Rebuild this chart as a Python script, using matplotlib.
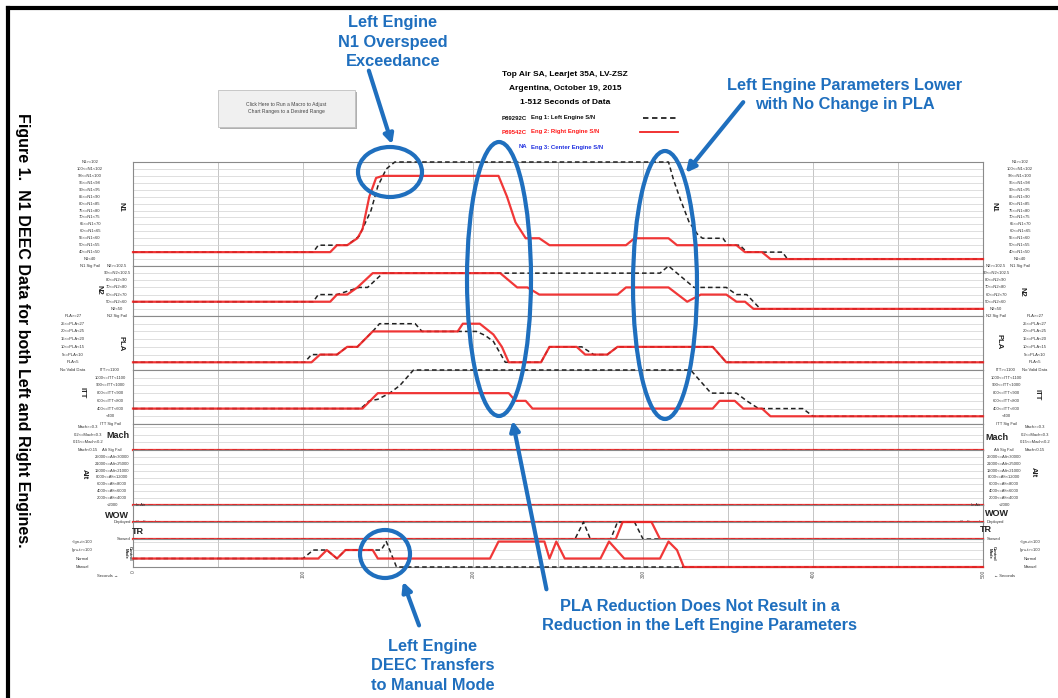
import matplotlib
matplotlib.use("Agg")
import matplotlib.pyplot as plt
import matplotlib.transforms as mtransforms
from matplotlib.patches import Ellipse, Rectangle, FancyArrowPatch
from matplotlib.lines import Line2D

plt.rcParams["font.family"] = ["Liberation Sans", "DejaVu Sans"]

W, H = 1058, 698

# -----------------------------
# 1. Data (time in seconds, value = band index of each parameter)
# -----------------------------
n1_eng1_t = [0, 106, 109, 118, 126, 133, 140, 144, 149, 154, 315, 318, 322, 327, 332, 335, 347, 350, 357, 361, 382, 385, 500]
n1_eng1_v = [1, 1, 2, 2, 2, 3.3, 7, 10.5, 13, 14, 14, 11.4, 8.6, 5.4, 3.6, 3, 3, 2, 2, 1, 1, 0, 0]
n1_eng2_t = [0, 116, 120, 126, 132, 135, 139, 143, 147, 215, 220, 225, 231, 239, 245, 290, 295, 315, 320, 355, 360, 370, 375, 500]
n1_eng2_v = [1, 1, 2, 2, 3, 4.3, 9, 11.7, 12, 12, 9, 5.3, 3, 3, 2, 2, 3, 3, 2, 2, 1, 1, 0, 0]

n2_eng1_t = [0, 106, 109, 120, 133, 138, 147, 310, 315, 330, 349, 355, 361, 369, 500]
n2_eng1_v = [1, 1, 2, 2, 3, 3, 5, 5, 6, 3, 3, 2, 2, 0, 0]
n2_eng2_t = [0, 116, 120, 126, 132, 141, 216, 226, 232, 239, 285, 290, 315, 326, 334, 349, 355, 360, 365, 500]
n2_eng2_v = [1, 1, 2, 2, 3, 5, 5, 3, 3, 2, 2, 3, 3, 1, 2, 2, 1, 1, 0, 0]

pla_eng1_t = [0, 101, 105, 112, 120, 126, 132, 141, 145, 166, 170, 202, 207, 212, 219, 240, 245, 264, 271, 279, 285, 341, 349, 500]
pla_eng1_v = [0, 0, 1, 1, 1, 2, 2, 4, 5, 5, 4, 4, 3.5, 2.7, 0, 0, 2, 2, 1, 1, 2, 2, 0, 0]
pla_eng2_t = [0, 105, 110, 120, 126, 132, 141, 191, 194, 204, 212, 217, 221, 240, 245, 261, 266, 279, 285, 341, 349, 500]
pla_eng2_v = [0, 0, 1, 1, 2, 2, 4, 4, 5, 5, 3.6, 2, 0, 0, 2, 2, 1, 1, 2, 2, 0, 0]

itt_eng1_t = [0, 134, 139, 144, 151, 157, 165, 328, 334, 340, 355, 361, 368, 394, 400, 500]
itt_eng1_v = [0, 0, 1, 1.2, 2, 3, 5, 5, 3.5, 2, 2, 1, 0, 0, -1, -1]
itt_eng2_t = [0, 135, 144, 221, 225, 231, 235, 341, 345, 354, 359, 370, 375, 500]
itt_eng2_v = [0, 0, 2, 2, 1, 1, 0, 0, 1, 1, 0, 0, -1, -1]

mach_t = [0, 500]
mach_v = [0, 0]
alt_t = [0, 500]
alt_v = [0, 0]
wow_t = [0, 500]
wow_v = [0, 0]

tr_eng1_t = [0, 260, 265, 269, 281, 285, 295, 300, 500]
tr_eng1_v = [0, 0, 1, 0, 0, 1, 1, 0, 0]
tr_eng2_t = [0, 284, 288, 305, 310, 500]
tr_eng2_v = [0, 0, 1, 1, 0, 0]

deec_eng1_t = [0, 100, 106, 114, 120, 125, 141, 146, 149, 155, 500]
deec_eng1_v = [1, 1, 2, 2, 1, 2, 2, 2, 3, 0, 0]
deec_eng2_t = [0, 109, 114, 120, 125, 141, 144, 210, 215, 242, 245, 249, 254, 275, 280, 289, 310, 315, 320, 324, 500]
deec_eng2_v = [1, 1, 2, 1, 2, 2, 1, 1, 3, 3, 1, 3, 1, 1, 3, 1, 1, 3, 2, 0, 0]

# band labels, lowest band first
n1_labels = ["N1 Sig Fail", "N1<40", "40<=N1<50", "50<=N1<55", "55<=N1<60", "60<=N1<65", "65<=N1<70",
             "70<=N1<75", "75<=N1<80", "80<=N1<85", "85<=N1<90", "90<=N1<95", "95<=N1<98",
             "98<=N1<100", "100<=N1<102", "N1>=102"]
n2_labels = ["N2 Sig Fail", "N2<50", "50<=N2<60", "60<=N2<70", "70<=N2<80", "80<=N2<90", "90<=N2<102.5", "N2>=102.5"]
pla_labels = ["No Valid Data", "PLA<5", "5<=PLA<10", "10<=PLA<15", "15<=PLA<20", "20<=PLA<25", "25<=PLA<27", "PLA>=27"]
itt_labels = ["ITT Sig Fail", "<400", "400<=ITT<600", "600<=ITT<800", "800<=ITT<900", "900<=ITT<1000", "1000<=ITT<1100", "ITT>=1100"]
mach_labels = ["Mach<0.15", "0.15<=Mach<0.2", "0.2<=Mach<0.3", "Mach>=0.3"]
alt_labels = ["<2000", "2000<=Alt<4000", "4000<=Alt<6000", "6000<=Alt<8000", "8000<=Alt<12000",
              "12000<=Alt<21000", "21000<=Alt<25000", "25000<=Alt<30000", "Alt Sig Fail"]
wow_labels = ["On Ground", "In Air"]
tr_labels = ["Stowed", "Deployed"]
deec_labels = ["Manual", "Normal", "Ign+t>=100", "<Ign+t<100"]

x_ticks = list(range(0, 501, 50))
x_labels = ["0", "", "100", "", "200", "", "300", "", "400", "", "500"]

# -----------------------------
# 2. Layout / style
# -----------------------------
RED = "#f02222"
BLUE = "#1f6fbe"


def fx(x):
    return x / W


def fy(y):
    return 1 - y / H


# name, top px, bottom px, ylim, labels, first band, eng1 (t, v), eng2 (t, v)
panels = [
    ("N1", 162, 266, (-1, 14), n1_labels, -1, (n1_eng1_t, n1_eng1_v), (n1_eng2_t, n1_eng2_v)),
    ("N2", 266, 316, (-1, 6), n2_labels, -1, (n2_eng1_t, n2_eng1_v), (n2_eng2_t, n2_eng2_v)),
    ("PLA", 316, 370, (-1, 6), pla_labels, -1, (pla_eng1_t, pla_eng1_v), (pla_eng2_t, pla_eng2_v)),
    ("ITT", 370, 424, (-2, 5), itt_labels, -2, (itt_eng1_t, itt_eng1_v), (itt_eng2_t, itt_eng2_v)),
    ("Mach", 424, 450, (0, 3.4), mach_labels, 0, (mach_t, mach_v), (mach_t, mach_v)),
    ("Alt", 450, 505, (0, 8), alt_labels, 0, (alt_t, alt_v), (alt_t, alt_v)),
    ("WOW", 505, 522, (0, 1), wow_labels, 0, (wow_t, wow_v), (wow_t, wow_v)),
    ("TR", 522, 539, (0, 1), tr_labels, 0, (tr_eng1_t, tr_eng1_v), (tr_eng2_t, tr_eng2_v)),
    ("DEEC", 539, 567, (0, 3.3), deec_labels, 0, (deec_eng1_t, deec_eng1_v), (deec_eng2_t, deec_eng2_v)),
]

# where the band labels go: left x, left ha, right x, right ha
label_pos = {
    "N1": (90, "center", 1020, "center"),
    "N2": (117, "center", 996, "center"),
    "PLA": (73, "center", 1035, "center"),
    "ITT": (110, "center", 1006, "center"),
    "Mach": (88, "center", 1035, "center"),
    "Alt": (112, "center", 1004, "center"),
    "WOW": (136, "left", 980, "right"),
    "TR": (131, "right", 987, "left"),
    "DEEC": (82, "center", 1030, "center"),
}
# panel names: left (x, y, rot), right (x, y, rot)
name_pos = {
    "N1": ((121, 207, 270), (994, 207, 270)),
    "N2": ((99, 290, 270), (1022, 292, 270)),
    "PLA": ((121, 344, 270), (999, 342, 270)),
    "ITT": ((82, 393, 270), (1037, 395, 270)),
    "Mach": ((118, 436, 0), (997, 437, 0)),
    "Alt": ((84, 474, 270), (1033, 472, 270)),
    "WOW": ((117, 516, 0), (997, 513, 0)),
    "TR": ((138, 531, 0), (986, 530, 0)),
    "DEEC": ((128, 553, 270), (992, 553, 270)),
}

fig = plt.figure(figsize=(W / 100, H / 100), dpi=100)
fig.patch.set_facecolor("white")

left_px, right_px = 133, 983
axes = []
for name, top, bot, ylim, labels, first, eng1, eng2 in panels:
    ax = fig.add_axes([fx(left_px), fy(bot), (right_px - left_px) / W, (bot - top) / H])
    ax.set_xlim(0, 500)
    ax.set_ylim(*ylim)
    levels = list(range(first, first + len(labels)))
    ax.set_yticks([lv for lv in levels if ylim[0] <= lv <= ylim[1]])
    ax.set_xticks(x_ticks)
    ax.tick_params(length=0, labelleft=False, labelbottom=False)
    ax.grid(axis="y", color="#d2d2d2", lw=0.5)
    ax.grid(axis="x", color="#bcbcbc", lw=0.6)
    for sp in ax.spines.values():
        sp.set_color("#8a8a8a")
        sp.set_linewidth(0.8)

    ax.plot(eng1[0], eng1[1], color="#222222", lw=1.1, ls=(0, (3, 2)), clip_on=False, zorder=3)
    ax.plot(eng2[0], eng2[1], color=RED, lw=1.6, clip_on=False, zorder=4, alpha=0.9)

    # band labels on both sides
    trans = mtransforms.blended_transform_factory(fig.transFigure, ax.transData)
    lx, lha, rx, rha = label_pos[name]
    for lv, lab in zip(levels, labels):
        if lv < ylim[0] - 0.01 or lv > ylim[1] + 0.01:
            continue
        ax.text(fx(lx), lv, lab, transform=trans, ha=lha, va="center", fontsize=3, color="#333333")
        ax.text(fx(rx), lv, lab, transform=trans, ha=rha, va="center", fontsize=3, color="#333333")

    (nlx, nly, nlr), (nrx, nry, nrr) = name_pos[name]
    txt = "Control\nMode" if name == "DEEC" else name
    fsz = 3 if name == "DEEC" else (6.5 if nlr == 0 else 5.5)
    fig.text(fx(nlx), fy(nly), txt, rotation=nlr, ha="center", va="center", fontsize=fsz,
             fontweight="bold", color="#222222")
    fig.text(fx(nrx), fy(nry), txt, rotation=nrr, ha="center", va="center", fontsize=fsz,
             fontweight="bold", color="#222222")
    axes.append(ax)

# time ticks on the bottom panel
axes[-1].tick_params(labelbottom=True, labelsize=3.5, pad=2, colors="#555555")
axes[-1].set_xticklabels(x_labels, rotation=90)
fig.text(fx(108), fy(576), "Seconds \u2192", fontsize=3, ha="center", va="center", color="#333333")
fig.text(fx(1005), fy(576), "\u2190 Seconds", fontsize=3, ha="center", va="center", color="#333333")

# -----------------------------
# 3. Title block and legend
# -----------------------------
cx = fx(565)
fig.text(cx, fy(74), "Top Air SA, Learjet 35A, LV-ZSZ", ha="center", va="center", fontsize=6, fontweight="bold")
fig.text(cx, fy(89), "Argentina, October 19, 2015", ha="center", va="center", fontsize=6, fontweight="bold")
fig.text(cx, fy(103), "1-512 Seconds of Data", ha="center", va="center", fontsize=6, fontweight="bold")

legend_rows = [
    ("P89292C", "Eng 1: Left Engine S/N", "#111111", 118),
    ("P89542C", "Eng 2: Right Engine S/N", "#ff1a1a", 132),
    ("NA", "Eng 3: Center Engine S/N", "#2030e0", 147),
]
for sn, desc, col, y in legend_rows:
    fig.text(fx(527), fy(y), sn, ha="right", va="center", fontsize=4.3, fontweight="bold", color=col)
    fig.text(fx(531), fy(y), desc, ha="left", va="center", fontsize=4.3, fontweight="bold", color=col)
fig.add_artist(Line2D([fx(643), fx(678)], [fy(118), fy(118)], color="#222222", lw=1.3, ls=(0, (3, 2))))
fig.add_artist(Line2D([fx(640), fx(678)], [fy(132), fy(132)], color=RED, lw=1.3))

# macro button
fig.add_artist(Rectangle((fx(220), fy(129)), fx(137), 37 / H, transform=fig.transFigure,
                         facecolor="#b0b0b0", edgecolor="none"))
fig.add_artist(Rectangle((fx(218), fy(127)), fx(137), 37 / H, transform=fig.transFigure,
                         facecolor="#f0f0f0", edgecolor="#c0c0c0", lw=0.6))
fig.text(fx(286), fy(108), "Click Here to Run a Macro to Adjust\nChart Ranges to a Desired Range",
         ha="center", va="center", fontsize=3.6, color="#444444", linespacing=1.5)

# -----------------------------
# 4. Callouts
# -----------------------------
for (ex, ey, ew, eh) in [(390, 172, 64, 50), (499, 279, 64, 274), (665, 285, 64, 268), (385, 554, 50, 48)]:
    fig.add_artist(Ellipse((fx(ex), fy(ey)), ew / W, eh / H, transform=fig.transFigure,
                           fill=False, edgecolor=BLUE, lw=3))

for (x0, y0, x1, y1) in [(368, 68, 393, 147), (745, 100, 684, 175), (547, 592, 512, 418), (420, 628, 402, 579)]:
    fig.add_artist(FancyArrowPatch((fx(x0), fy(y0)), (fx(x1), fy(y1)), transform=fig.transFigure,
                                   arrowstyle="-|>", mutation_scale=14, lw=3, color=BLUE))

callouts = [
    (393, 42, "Left Engine\nN1 Overspeed\nExceedance"),
    (845, 95, "Left Engine Parameters Lower\nwith No Change in PLA"),
    (700, 616, "PLA Reduction Does Not Result in a\nReduction in the Left Engine Parameters"),
    (433, 666, "Left Engine\nDEEC Transfers\nto Manual Mode"),
]
for x, y, s in callouts:
    fig.text(fx(x), fy(y), s, ha="center", va="center", fontsize=11.8, fontweight="bold",
             color=BLUE, linespacing=1.4)

# figure caption and page border
fig.text(fx(22), fy(330), "Figure 1.  N1 DEEC Data for both Left and Right Engines.", rotation=270,
         ha="center", va="center", fontsize=11.5, fontweight="bold")
fig.add_artist(Line2D([fx(8), 1], [fy(8), fy(8)], color="black", lw=3))
fig.add_artist(Line2D([fx(8), fx(8)], [fy(8), 0], color="black", lw=3))

fig.savefig("out.png", dpi=100)
